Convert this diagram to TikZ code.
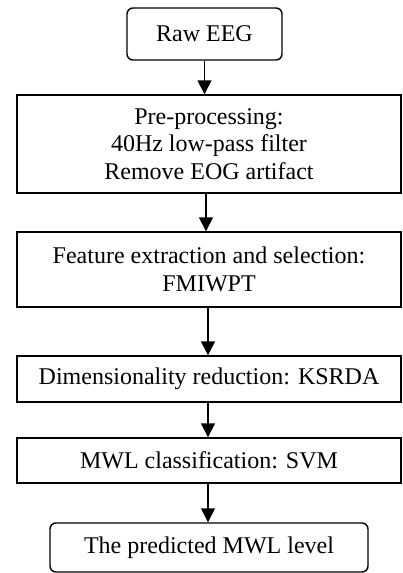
\documentclass[tikz,border=0pt]{standalone}
\usepackage{fontspec}
\setmainfont{Liberation Serif}
\usepackage{tikz}
\usetikzlibrary{arrows.meta,positioning}
\tikzset{
  stepbox/.style={draw=black, line width=1.4pt, align=center, inner sep=2pt, minimum width=384pt, font=\fontsize{24}{27.5}\selectfont},
  termbox/.style={draw=black, line width=1.4pt, rounded corners=6pt, align=center, inner sep=2pt, font=\fontsize{24}{27.5}\selectfont},
  arrow/.style={-{Triangle[length=14pt,width=14pt]}, line width=1.4pt}
}

\begin{document}
\begin{tikzpicture}[x=1pt,y=1pt]
\useasboundingbox (0,0) rectangle (402,-573);
\node[termbox, minimum width=155pt, minimum height=52pt] (raw) at (204.5,-34) {Raw EEG};
\node[stepbox, minimum height=98pt] (pre) at (209,-144) {Pre-processing:\\40Hz low-pass filter\\Remove EOG artifact};
\node[stepbox, minimum height=75pt] (feat) at (209,-269.5) {Feature extraction and selection:\\FMIWPT};
\node[stepbox, minimum height=46pt] (dim) at (209,-379) {Dimensionality reduction: KSRDA};
\node[stepbox, minimum height=45pt] (cls) at (209,-460.5) {MWL classification: SVM};
\node[termbox, minimum width=318pt, minimum height=49pt] (pred) at (209,-547.5) {The predicted MWL level};
\draw[arrow] (raw.south) -- (raw.south |- pre.north);
\draw[arrow] ([xshift=-3pt]pre.south) -- ([xshift=-3pt]pre.south |- feat.north);
\draw[arrow] ([xshift=-1pt]feat.south) -- ([xshift=-1pt]feat.south |- dim.north);
\draw[arrow] ([xshift=-1pt]dim.south) -- ([xshift=-1pt]dim.south |- cls.north);
\draw[arrow] ([xshift=-1pt]cls.south) -- ([xshift=-1pt]cls.south |- pred.north);
\end{tikzpicture}
\end{document}
